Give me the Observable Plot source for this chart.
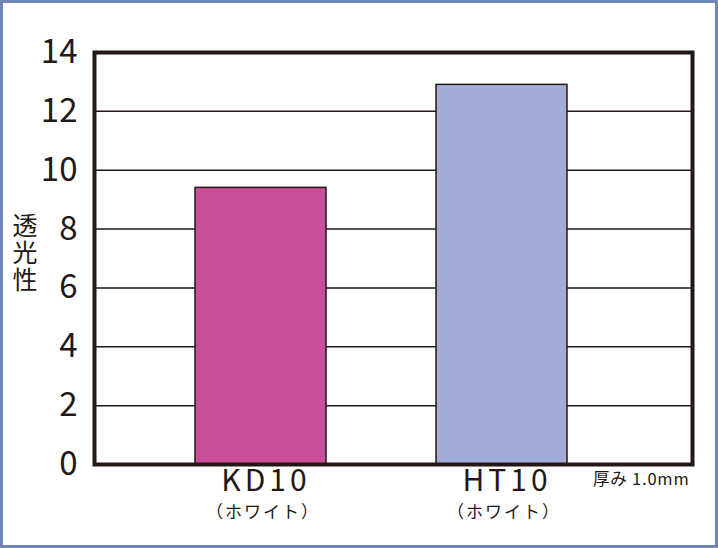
<!DOCTYPE html>
<html>
<head>
<meta charset="utf-8">
<script src="https://cdn.jsdelivr.net/npm/d3@7"></script>
<script src="https://cdn.jsdelivr.net/npm/@observablehq/plot@0.6"></script>
<style>
  html, body { margin: 0; padding: 0; background: white; }
  #chart svg { display: block; outline: 3px solid #6f86b6; outline-offset: -3px; }
</style>
</head>
<body>
<div id="chart"></div>
<script>
const names = ["KD10", "HT10"];
const values = [9.4, 12.9];
const subLabels = ["（ホワイト）", "（ホワイト）"];
const barColors = ["#c94f98", "#a3acd8"];
const yTicks = [0, 2, 4, 6, 8, 10, 12, 14];
const yLabel = "透光性";
const note = "厚み 1.0mm";

const ink = "#231815";
const thin = "'Noto Sans CJK JP', 'Noto Sans', sans-serif";
const data = names.map((n, i) => ({name: n, value: values[i], sub: subLabels[i]}));

const chart = Plot.plot({
  width: 718,
  height: 548,
  marginLeft: 94,
  marginRight: 26,
  marginTop: 52,
  marginBottom: 84,
  style: {fontFamily: "'Noto Sans CJK JP', 'Noto Sans', sans-serif", color: ink, background: "white"},
  x: {domain: names, range: [139, 623], paddingInner: 0.4545, paddingOuter: 0.2273, axis: null},
  y: {domain: [0, 14], axis: null},
  color: {domain: names, range: barColors},
  marks: [
    Plot.ruleY(yTicks, {stroke: ink, strokeWidth: 1.5}),
    Plot.barY(data, {x: "name", y: "value", fill: "name", stroke: ink, strokeWidth: 1.5}),
    Plot.axisY(yTicks, {label: null, tickSize: 0, tickPadding: 17, fontSize: 33, fontFamily: thin, fill: ink}),
    Plot.text(data, {x: "name", text: "name", frameAnchor: "bottom", dy: 26, dx: 5, fontSize: 30, fontFamily: thin, fill: ink}),
    Plot.text(data, {x: "name", text: "sub", frameAnchor: "bottom", dy: 53, dx: 2, fontSize: 17, fontFamily: thin, fill: ink}),
    Plot.text([note], {text: d => d, frameAnchor: "bottom-right", dx: -3, dy: 20, textAnchor: "end", fontSize: 16.5, fontFamily: thin, fill: ink}),
    Plot.text([yLabel], {text: d => d, frameAnchor: "left", textAnchor: "middle", lineAnchor: "top", dx: -69.5, dy: -23, fontSize: 25, fill: ink}),
    Plot.frame({stroke: ink, strokeWidth: 4})
  ]
});
const sel = d3.select(chart).selectAll("text");
sel.filter(function() { return names.includes(this.textContent); }).style("letter-spacing", "4px");
sel.filter(function() { return subLabels.includes(this.textContent); }).style("letter-spacing", "2px");
sel.filter(function() { return this.textContent === note; }).style("letter-spacing", "0.8px");
sel.filter(function() { return this.textContent === yLabel; })
  .attr("dy", null)
  .style("writing-mode", "vertical-rl")
  .style("letter-spacing", "2px");
document.getElementById("chart").append(chart);
</script>
</body>
</html>
